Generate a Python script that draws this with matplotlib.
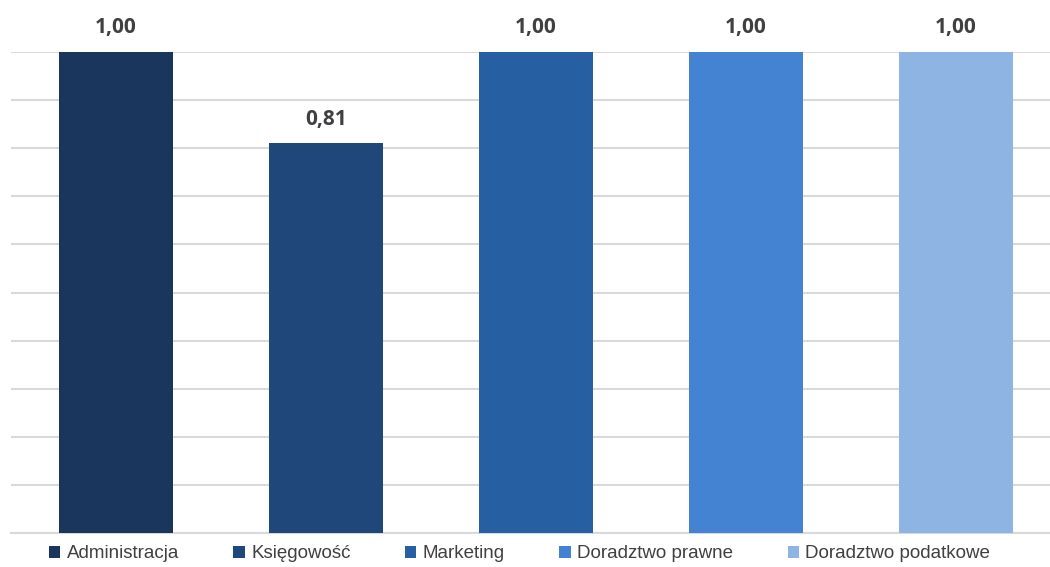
import numpy as np
import matplotlib.pyplot as plt
from matplotlib.patches import Patch

# dane
categories = ['Administracja', 'Księgowość', 'Marketing', 'Doradztwo prawne', 'Doradztwo podatkowe']
values = [1.00, 0.81, 1.00, 1.00, 1.00]
colors = ['#1B365D', '#1F477A', '#2660A3', '#4383D2', '#8EB4E3']
value_labels = ['1,00', '0,81', '1,00', '1,00', '1,00']

plt.rcParams['font.family'] = ['Liberation Sans', 'DejaVu Sans']

fig = plt.figure(figsize=(10.5, 5.67), dpi=100)
ax = fig.add_axes([11/1050, 1 - 533/567, 1 - 11/1050, (533 - 52)/567])

x = np.arange(len(categories))
bars = ax.bar(x, values, width=0.543, color=colors, zorder=3)

# etykiety wartosci nad slupkami
for xi, v, lab in zip(x, values, value_labels):
    ax.annotate(lab, (xi, v), xytext=(0, 10), textcoords='offset points',
                ha='center', va='bottom', fontsize=15, fontweight='bold',
                color='#404040', family='Open Sans', clip_on=False)

ax.set_ylim(0, 1.0)
ax.set_xlim(-0.5, 4.448)
ax.set_yticks(np.arange(0, 1.01, 0.1))
ax.yaxis.grid(True, color='#D9D9D9', linewidth=1.5, zorder=0)
ax.set_yticklabels([])
ax.set_xticks([])
ax.tick_params(left=False, bottom=False)
for s in ['top', 'right', 'left']:
    ax.spines[s].set_visible(False)
ax.spines['bottom'].set_color('#D9D9D9')
ax.spines['bottom'].set_linewidth(1.5)

handles = [Patch(facecolor=c, label=n) for c, n in zip(colors, categories)]
fig.legend(handles=handles, loc='center', bbox_to_anchor=(519.5/1050, 1 - 554/567),
           ncol=5, frameon=False, fontsize=13.5, handlelength=0.6, handleheight=0.6,
           handletextpad=0.35, columnspacing=2.9, labelcolor='#404040',
           borderpad=0.1)

fig.savefig('out.png', dpi=100)
